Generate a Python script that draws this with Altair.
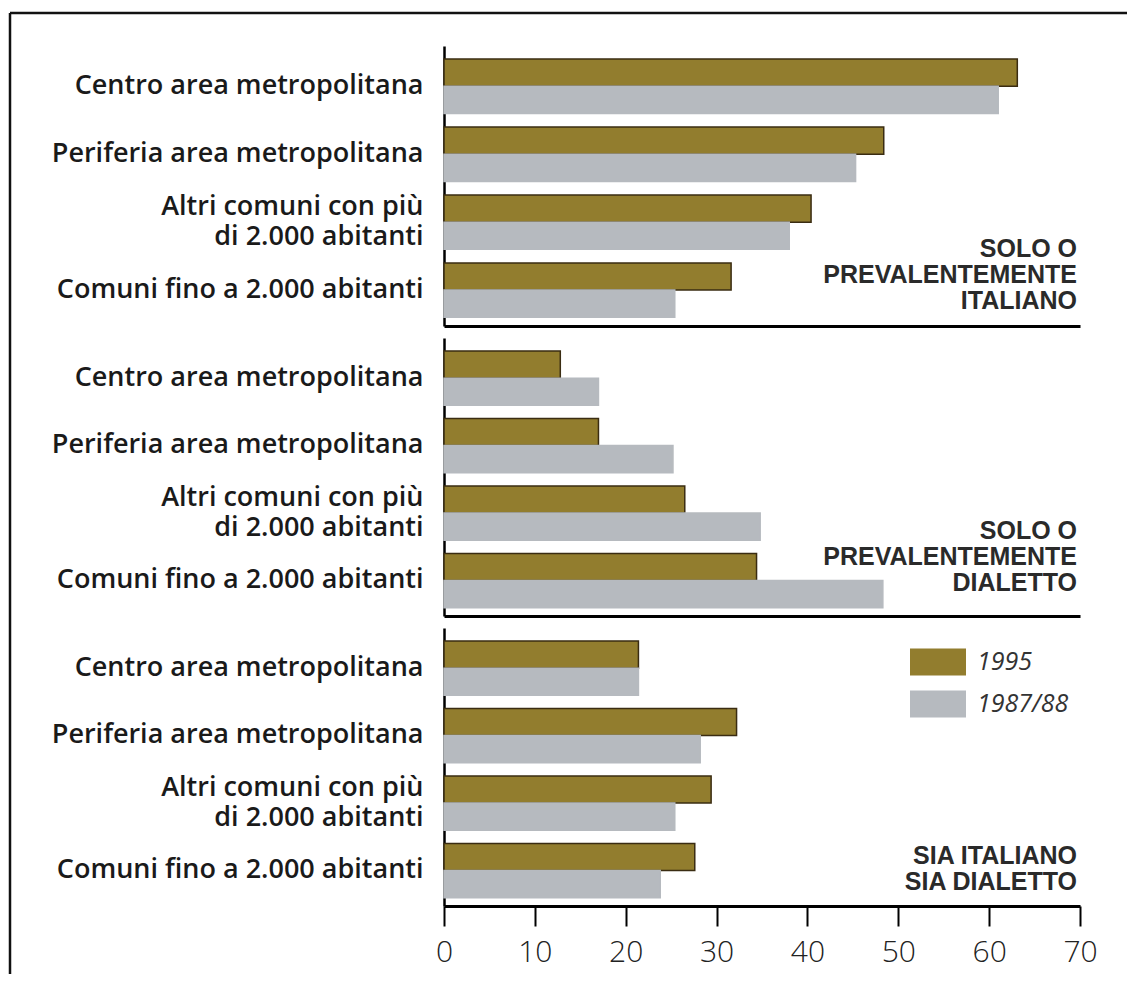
import altair as alt
import pandas as pd

categories = [
    "Centro area metropolitana",
    "Periferia area metropolitana",
    "Altri comuni con più |di 2.000 abitanti",
    "Comuni fino a 2.000 abitanti",
]
series = ["1995", "1987/88"]
panel_titles = [
    "SOLO O\nPREVALENTEMENTE\nITALIANO",
    "SOLO O\nPREVALENTEMENTE\nDIALETTO",
    "SIA ITALIANO\nSIA DIALETTO",
]
italiano_1995 = [63.1, 48.4, 40.4, 31.6]
italiano_1987 = [61.0, 45.3, 38.0, 25.4]
dialetto_1995 = [12.8, 17.0, 26.5, 34.4]
dialetto_1987 = [17.0, 25.2, 34.8, 48.3]
entrambi_1995 = [21.4, 32.2, 29.4, 27.6]
entrambi_1987 = [21.4, 28.2, 25.4, 23.8]
x_ticks = [0, 10, 20, 30, 40, 50, 60, 70]

values = [
    (italiano_1995, italiano_1987),
    (dialetto_1995, dialetto_1987),
    (entrambi_1995, entrambi_1987),
]

BROWN = "#927d2e"
GRAY = "#b6babf"
W = 636
heights = [280, 278, 278]
title_tops = [191, 181, 216]

def panel(i):
    v95, v87 = values[i]
    rows = []
    for c, a, b in zip(categories, v95, v87):
        rows.append({"category": c, "series": series[0], "value": a})
        rows.append({"category": c, "series": series[1], "value": b})
    df = pd.DataFrame(rows)
    last = i == 2
    if last:
        xaxis = alt.Axis(values=x_ticks, grid=False, title=None, domainColor="black",
                         domainWidth=3, tickColor="black", tickWidth=2, tickSize=20,
                         labelFontSize=30, labelFont="Open Sans", labelFontWeight=300,
                         labelColor="#222222", labelPadding=11, labelFlush=False)
    else:
        xaxis = alt.Axis(labels=False, ticks=False, grid=False, title=None,
                         domainColor="black", domainWidth=3, minExtent=0, maxExtent=0)
    leg = None
    if last:
        leg = alt.Legend(title=None, orient="none", legendX=466, legendY=6,
                         symbolType="M-1,-0.48H1V0.48H-1Z", symbolSize=3136,
                         symbolStrokeWidth=0, labelFont="Open Sans", labelFontStyle="italic",
                         labelFontSize=25, labelColor="#333333", rowPadding=-6,
                         labelOffset=11, symbolOpacity=1)
    bars = alt.Chart(df).mark_bar(strokeWidth=1.5).encode(
        x=alt.X("value:Q", scale=alt.Scale(domain=[0, 70], nice=False), axis=xaxis),
        y=alt.Y("category:N", sort=categories,
                scale=alt.Scale(paddingInner=0.2, paddingOuter=0.16, align=0.6),
                axis=alt.Axis(title=None, ticks=False, grid=False, domainColor="black",
                              domainWidth=2.5, labelFont="Open Sans", labelFontWeight=600,
                              labelFontSize=27, labelColor="#1a1a1a", labelPadding=21,
                              labelLimit=600, minExtent=434, maxExtent=434,
                              labelExpr="split(datum.label, '|')", labelLineHeight=30,
                              labelOffset={"condition": {"test": "indexof(datum.value, '|') >= 0",
                                                         "value": -15},
                                           "value": 0})),
        yOffset=alt.YOffset("series:N", sort=series, scale=alt.Scale(paddingInner=0, paddingOuter=0)),
        color=alt.Color("series:N", scale=alt.Scale(domain=series, range=[BROWN, GRAY]),
                        legend=leg),
        stroke=alt.Stroke("series:N", scale=alt.Scale(domain=series, range=["#3a2c12", GRAY]),
                          legend=None),
    )
    label = alt.Chart(pd.DataFrame({"t": [panel_titles[i]]})).mark_text(
        align="right", baseline="top", lineBreak="\n", lineHeight=26,
        font="Liberation Sans", fontWeight="bold", fontSize=25, color="#2a2a2a",
    ).encode(text="t:N", x=alt.value(W - 3), y=alt.value(title_tops[i]))
    layers = [bars, label]
    if i == 0:
        frame_src = alt.Chart(pd.DataFrame({"k": [0]}))
        top_line = frame_src.mark_rule(color="#111111", strokeWidth=2.5).encode(
            x=alt.value(-434), x2=alt.value(683), y=alt.value(-33))
        left_line = frame_src.mark_rule(color="#111111", strokeWidth=2.5).encode(
            x=alt.value(-434), y=alt.value(-33), y2=alt.value(928))
        layers += [top_line, left_line]
    return alt.layer(*layers).properties(width=W, height=heights[i])

chart = alt.vconcat(panel(0), panel(1), panel(2), spacing=12, bounds="flush").properties(
    padding={"left": 0, "top": 3, "right": 0, "bottom": 0}
).configure_view(stroke=None).resolve_scale(color="independent", stroke="independent")

chart.save("out.html", embed_options={"renderer": "svg", "actions": False})
